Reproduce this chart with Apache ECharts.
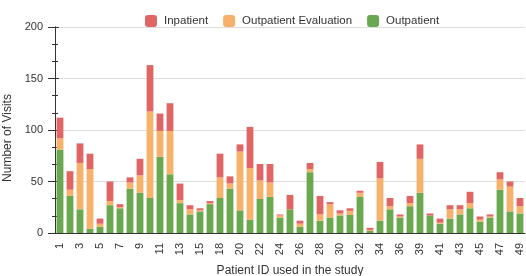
<!DOCTYPE html>
<html>
<head>
<meta charset="utf-8">
<script src="https://cdn.jsdelivr.net/npm/echarts@6/dist/echarts.min.js"></script>
<style>
  html, body { margin: 0; padding: 0; background: #fff; }
  #chart { width: 526px; height: 276px; }
</style>
</head>
<body>
<div id="chart"></div>
<script>
const patientIds = ['1','2','3','4','5','6','7','8','9','10','11','12','13','14','15','16',
  '18','19','20','21','22','23','24','25','26','27','28','29','30','31','32','33','34','35','36','37',
  '39','40','41','42','43','44','45','46','47','48','49'];
const outpatient = [81,36,23,4,6,27,24,43,39,34,74,57,29,18,21,28,
  34,43,22,13,33,35,15,23,6,59,12,15,17,17.5,35,2,12,23,15,26,
  39,17,9,14,18,24,11,15,42,21,19];
const outpatientEval = [11,6,45,58,3,4,1,6,17,84,25,42,3,5,1,1,
  20,5,57,50,18,14,2,0,3,3,6,13,2,4,4,1,41,3,1,3,
  33,0,1,9,5,5,2,1,10,24,7];
const inpatient = [20,18,19,15,5,19,3,5,16,45,17,27,16,4,2,2,
  23,7,7,40,16,18,1,14,3,6,18,2,3,2.5,2,2,16,8,2,7,
  14,2,4,4,4,11,3,2,7,5,8];
const yTicks = { min: 0, max: 200, interval: 50 };

(function () {
  const chart = echarts.init(document.getElementById('chart'));
  const font = 'Liberation Sans, Arial, sans-serif';
  const axisColor = '#333';

  const yBase = {
    type: 'value',
    min: yTicks.min,
    max: yTicks.max,
    interval: yTicks.interval,
    axisLine: { show: true, lineStyle: { color: axisColor } },
  };

  const mkSeries = (name, data, color) => ({
    name,
    type: 'bar',
    stack: 'visits',
    data,
    barWidth: '68%',
    itemStyle: { color },
  });

  chart.setOption({
    animation: false,
    textStyle: { fontFamily: font },
    legend: {
      top: 10,
      left: 140,
      itemWidth: 12,
      itemHeight: 12,
      itemGap: 15,
      icon: 'roundRect',
      textStyle: { fontSize: 11.5, color: '#333', fontFamily: font, padding: [0, 0, 0, 2] },
      data: ['Inpatient', 'Outpatient Evaluation', 'Outpatient'],
    },
    grid: { left: 55, right: 1, top: 27, bottom: 43, containLabel: false, outerBoundsMode: 'none' },
    xAxis: {
      type: 'category',
      data: patientIds,
      name: 'Patient ID used in the study',
      nameLocation: 'middle',
      nameGap: 32,
      nameTextStyle: { fontSize: 12, color: '#333' },
      axisLine: { lineStyle: { color: axisColor } },
      axisTick: { interval: 0, alignWithLabel: true, length: 5, lineStyle: { color: axisColor } },
      axisLabel: { interval: 1, rotate: 90, fontSize: 11, color: '#333', margin: 10 },
    },
    yAxis: [
      Object.assign({}, yBase, {
        name: 'Number of Visits',
        nameLocation: 'middle',
        nameGap: 30,
        nameTextStyle: { fontSize: 12, color: '#333', padding: [0, 16, 0, 0] },
        axisTick: { show: true, length: 7, lineStyle: { color: axisColor } },
        minorTick: { show: true, splitNumber: 3, length: 3, lineStyle: { color: axisColor } },
        axisLabel: { fontSize: 11, color: '#333', margin: 12 },
        splitLine: { show: true, lineStyle: { color: '#ddd' } },
      }),
      Object.assign({}, yBase, {
        position: 'left',
        axisTick: { show: true, inside: true, length: 4, lineStyle: { color: axisColor } },
        minorTick: { show: true, splitNumber: 3, length: 3, lineStyle: { color: axisColor } },
        axisLabel: { show: false },
        splitLine: { show: false },
      }),
    ],
    series: [
      mkSeries('Outpatient', outpatient, '#6aa84f'),
      mkSeries('Outpatient Evaluation', outpatientEval, '#f6b26b'),
      mkSeries('Inpatient', inpatient, '#e06666'),
    ],
  });
})();
</script>
</body>
</html>
